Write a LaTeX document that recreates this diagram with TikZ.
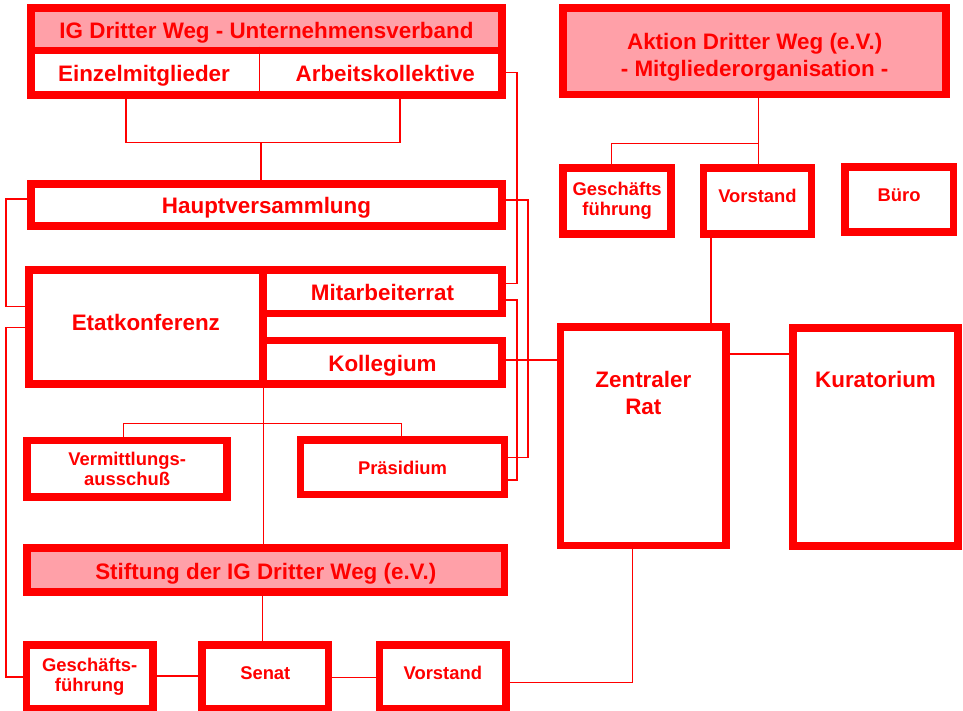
\documentclass[tikz,border=0pt]{standalone}
\usepackage{fontspec}
\setmainfont{Liberation Sans}
\usetikzlibrary{positioning,calc}
\definecolor{orgred}{RGB}{255,0,0}
\definecolor{orgpink}{RGB}{255,160,168}
\newcommand{\orgbig}{\fontsize{22.4}{27.3}\selectfont\bfseries}
\newcommand{\orgsmall}{\fontsize{18.4}{19.5}\selectfont\bfseries}

\begin{document}
\begin{tikzpicture}[x=1pt, y=-1pt,
    box/.style={draw=orgred, fill=white, line width=7.6pt, inner sep=0pt, align=center, text=orgred, font=\orgbig},
    headbox/.style={box, fill=orgpink},
    smallbox/.style={box, font=\orgsmall},
    bigline/.style={text height=18pt, text depth=0pt},
    smallline/.style={text height=15pt, text depth=0pt},
    boxtext/.style={text=orgred, font=\orgbig, align=center, inner sep=0pt},
    link/.style={draw=orgred, line width=1.5pt}
]
    \useasboundingbox (0,0) rectangle (963,711);

    % IG Dritter Weg
    \node[headbox, bigline, minimum width=470.8pt, minimum height=42.7pt] (ig) at (266.5,29.15) {IG Dritter Weg - Unternehmensverband};
    \node[box, minimum width=470.8pt, minimum height=44.4pt] (members) at (266.5,72.7) {};
    \node[boxtext, anchor=base] (einzel) at (144,81.7) {Einzelmitglieder};
    \node[boxtext, anchor=base] (arbeit) at (385.3,81.7) {Arbeitskollektive};
    \node[box, bigline, minimum width=470.8pt, minimum height=42.4pt] (haupt) at (266.5,205) {Hauptversammlung};

    % Etatkonferenz block
    \node[box, bigline, text depth=11.6pt, minimum width=234.1pt, minimum height=114.1pt] (etat) at (145.85,326.85) {Etatkonferenz};
    \node[box, bigline, minimum width=238.8pt, minimum height=43.7pt] (mitrat) at (382.5,291.65) {Mitarbeiterrat};
    \node[box, bigline, minimum width=238.8pt, minimum height=43.4pt] (koll) at (382.5,362.2) {Kollegium};
    \node[smallbox, minimum width=200.1pt, minimum height=56.7pt] (verm) at (127.15,468.85) {Vermittlungs-\\ausschuß};
    \node[smallbox, smallline, minimum width=204pt, minimum height=54.7pt] (praes) at (402.5,467.15) {Präsidium};

    % Stiftung
    \node[headbox, bigline, minimum width=477.4pt, minimum height=44.1pt] (stift) at (265.8,570.15) {Stiftung der IG Dritter Weg (e.V.)};
    \node[smallbox, minimum width=126.4pt, minimum height=64.4pt] (gfb) at (89.7,677) {Geschäfts-\\führung};
    \node[smallbox, smallline, text depth=11pt, minimum width=126.4pt, minimum height=64.4pt] (senat) at (265.3,677) {Senat};
    \node[smallbox, smallline, text depth=11pt, minimum width=126.7pt, minimum height=64.4pt] (vorb) at (442.85,677) {Vorstand};

    % Aktion Dritter Weg
    \node[headbox, minimum width=383.1pt, minimum height=86.7pt] (aktion) at (754.65,51.15) {};
    \node[boxtext, below=28.6pt of aktion.north] (aktiontext) {Aktion Dritter Weg (e.V.)\\- Mitgliederorganisation -};
    \node[smallbox, minimum width=108.1pt, minimum height=65.8pt] (gft) at (617.15,201) {Geschäfts\\führung};
    \node[smallbox, smallline, text depth=12pt, minimum width=108pt, minimum height=65.8pt] (vort) at (757.5,201) {Vorstand};
    \node[smallbox, smallline, text depth=12pt, minimum width=108.7pt, minimum height=65.1pt] (buero) at (899.15,199.65) {Büro};

    % Zentraler Rat and Kuratorium
    \node[box, minimum width=165.7pt, minimum height=218.4pt] (zrat) at (643.35,436.3) {};
    \node[boxtext, below=47.7pt of zrat.north] (zrattext) {Zentraler\\Rat};
    \node[box, bigline, text depth=117.4pt, minimum width=165.4pt, minimum height=218.4pt] (kurat) at (875.5,437) {Kuratorium};

    % Connectors
    \draw[link] (members.north -| 259.3,0) -- (members.south -| 259.3,0);
    \coordinate (igjoin) at (261,142.7);
    \draw[link] (members.south -| 126,0) |- (igjoin) -| (members.south -| 400,0);
    \draw[link] (igjoin) -- (haupt.north -| igjoin);

    \draw[link] (members.east) -| (517,283.3) -- (mitrat.east |- 0,283.3);
    \draw[link] (haupt.east |- 0,200) -| (528,457.3) -- (praes.east |- 0,457.3);
    \draw[link] (mitrat.east |- 0,300) -| (517,480) -- (praes.east |- 0,480);
    \draw[link] (koll.east |- 0,360) -- (zrat.west |- 0,360);

    \draw[link] (haupt.west |- 0,199) -| (6,306.7) -- (etat.west |- 0,306.7);
    \draw[link] (etat.west |- 0,327.7) -| (6,677) -- (gfb.west |- 0,677);

    \draw[link] (etat.south -| 263.3,0) -- (stift.north -| 263.3,0);
    \draw[link] (verm.north -| 123.3,0) |- (401.7,423.3) -- (praes.north -| 401.7,0);
    \draw[link] (stift.south -| 262.3,0) -- (senat.north -| 262.3,0);
    \draw[link] (gfb.east |- 0,676) -- (senat.west |- 0,676);
    \draw[link] (senat.east |- 0,677.3) -- (vorb.west |- 0,677.3);
    \draw[link] (vorb.east |- 0,682.3) -| (zrat.south -| 632.3,0);

    \draw[link] (aktion.south -| 758.7,0) -- (vort.north -| 758.7,0);
    \draw[link] (758.7,143.7) -| (gft.north -| 611.7,0);
    \draw[link] (vort.south -| 711,0) -- (zrat.north -| 711,0);
    \draw[link] (zrat.east |- 0,354) -- (kurat.west |- 0,354);
\end{tikzpicture}
\end{document}
